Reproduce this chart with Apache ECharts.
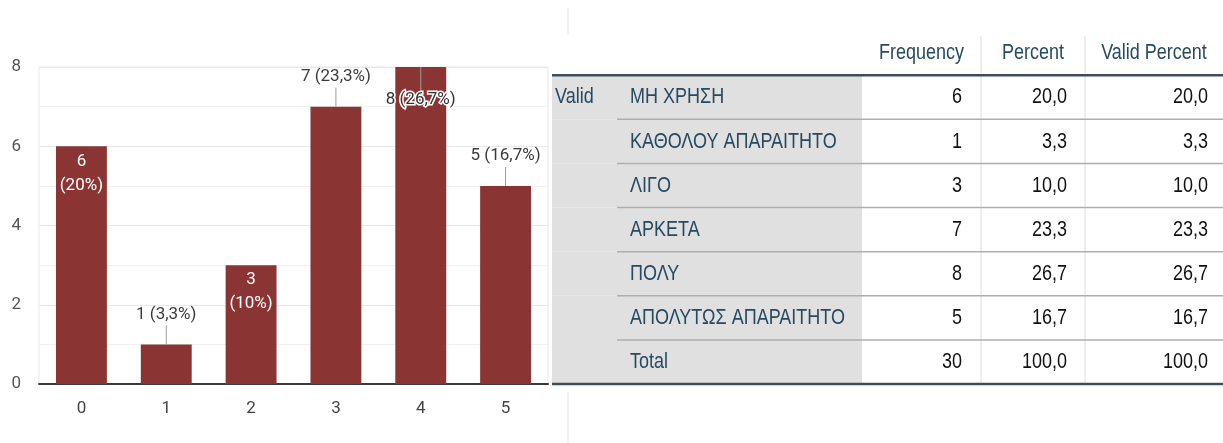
<!DOCTYPE html>
<html>
<head>
<meta charset="utf-8">
<script src="https://cdn.jsdelivr.net/npm/echarts@6/dist/echarts.min.js"></script>
<style>
  html, body { margin: 0; padding: 0; background: #fff; }
  #main { width: 1223px; height: 443px; }
</style>
</head>
<body>
<div id="main"></div>
<script>
// bar chart data
var categories = ['0', '1', '2', '3', '4', '5'];
var counts = [6, 1, 3, 7, 8, 5];
var countPercents = [20.0, 3.3, 10.0, 23.3, 26.7, 16.7];

// table data
var groupLabel = 'Valid';
var tableHeaders = ['Frequency', 'Percent', 'Valid Percent'];
var rowLabels = ['ΜΗ ΧΡΗΣΗ', 'ΚΑΘΟΛΟΥ ΑΠΑΡΑΙΤΗΤΟ', 'ΛΙΓΟ', 'ΑΡΚΕΤΑ', 'ΠΟΛΥ', 'ΑΠΟΛΥΤΩΣ ΑΠΑΡΑΙΤΗΤΟ', 'Total'];
var frequency = [6, 1, 3, 7, 8, 5, 30];
var percent = [20.0, 3.3, 10.0, 23.3, 26.7, 16.7, 100.0];
var validPercent = [20.0, 3.3, 10.0, 23.3, 26.7, 16.7, 100.0];

// where each bar label goes
var labelPlacement = ['inside', 'above', 'inside', 'above', 'below', 'above'];
// column edges of the table, offset from its left side
var colEdges = [0, 65, 310, 429, 533, 674];

var barColor = '#8b3434';
var tableFont = '"Liberation Sans Narrow", "Arial Narrow", "Liberation Sans", Arial, sans-serif';
var labelColor = '#264a60';

function pctText(p) {
  return (Number.isInteger(p) ? String(p) : p.toFixed(1).replace('.', ',')) + '%';
}
function num1(p) {
  return p.toFixed(1).replace('.', ',');
}

function renderBarLabel(params, api) {
  var i = api.value(0);
  var v = api.value(1);
  var pt = api.coord([i, v]);
  var mode = labelPlacement[i];
  var font = '17px Roboto';
  if (mode === 'inside') {
    return {
      type: 'group',
      children: [
        { type: 'text', x: pt[0], y: pt[1] + 15, style: { text: String(v), fill: '#fff', font: font, align: 'center', verticalAlign: 'middle' } },
        { type: 'text', x: pt[0], y: pt[1] + 39, style: { text: '(' + pctText(countPercents[i]) + ')', fill: '#fff', font: font, align: 'center', verticalAlign: 'middle' } }
      ]
    };
  }
  var txt = v + ' (' + pctText(countPercents[i]) + ')';
  if (mode === 'below') {
    return {
      type: 'group',
      children: [
        { type: 'line', shape: { x1: pt[0], y1: pt[1], x2: pt[0], y2: pt[1] + 25 }, style: { stroke: '#9a9a9a', lineWidth: 1 } },
        { type: 'text', x: pt[0], y: pt[1] + 33, style: { text: txt, fill: '#333', font: font, align: 'center', verticalAlign: 'middle', stroke: '#fff', lineWidth: 3 } }
      ]
    };
  }
  return {
    type: 'group',
    children: [
      { type: 'line', shape: { x1: pt[0], y1: pt[1], x2: pt[0], y2: pt[1] - 19 }, style: { stroke: '#9a9a9a', lineWidth: 1 } },
      { type: 'text', x: pt[0], y: pt[1] - 30, style: { text: txt, fill: '#3a3a3a', font: font, align: 'center', verticalAlign: 'middle' } }
    ]
  };
}

function renderRow(params, api) {
  var r = api.value(1);
  var c = api.coord([0, r]);
  var h = api.size([0, 1])[1];
  var left = params.coordSys.x;
  var top = c[1] - h / 2;
  var bot = c[1] + h / 2;
  var cy = c[1];
  var x = function (k) { return left + colEdges[k]; };
  var kids = [];
  var txt = function (s, px, align, fill) {
    kids.push({ type: 'text', x: px, y: cy, scaleY: 1.25, style: { text: s, fill: fill, font: '18px ' + tableFont, align: align, verticalAlign: 'middle' } });
  };
  if (r === 0) {
    kids.push({ type: 'line', shape: { x1: x(3), y1: top + 5, x2: x(3), y2: bot }, style: { stroke: '#dedede', lineWidth: 1 } });
    kids.push({ type: 'line', shape: { x1: x(4), y1: top + 5, x2: x(4), y2: bot }, style: { stroke: '#dedede', lineWidth: 1 } });
    for (var k = 0; k < 3; k++) {
      txt(tableHeaders[k], (x(k + 2) + Math.min(x(k + 3), left + params.coordSys.width)) / 2, 'center', labelColor);
    }
    return { type: 'group', children: kids };
  }
  var d = r - 1;
  kids.push({ type: 'rect', shape: { x: x(0), y: top, width: colEdges[2], height: h }, style: { fill: '#e0e0e0' } });
  kids.push({ type: 'line', shape: { x1: x(3), y1: top, x2: x(3), y2: bot }, style: { stroke: '#dedede', lineWidth: 1 } });
  kids.push({ type: 'line', shape: { x1: x(4), y1: top, x2: x(4), y2: bot }, style: { stroke: '#dedede', lineWidth: 1 } });
  if (d === 0) {
    kids.push({ type: 'line', shape: { x1: x(0), y1: top, x2: x(5), y2: top }, style: { stroke: '#3d4e59', lineWidth: 2.5 } });
    txt(groupLabel, x(0) + 3, 'left', labelColor);
  } else {
    kids.push({ type: 'line', shape: { x1: x(1), y1: top, x2: x(5), y2: top }, style: { stroke: '#aeaeae', lineWidth: 1.5 } });
  }
  if (d === rowLabels.length - 1) {
    kids.push({ type: 'line', shape: { x1: x(0), y1: bot, x2: x(5), y2: bot }, style: { stroke: '#3d4e59', lineWidth: 2.5 } });
  }
  txt(rowLabels[d], x(1) + 13, 'left', labelColor);
  txt(String(frequency[d]), x(3) - 19, 'right', '#111');
  txt(num1(percent[d]), x(4) - 18, 'right', '#111');
  txt(num1(validPercent[d]), x(5) - 18, 'right', '#111');
  return { type: 'group', children: kids };
}

var rowIdx = ['h'].concat(rowLabels);

var chart = echarts.init(document.getElementById('main'));
chart.setOption({
  animation: false,
  backgroundColor: '#fff',
  grid: [
    { left: 39, right: 675, top: 67, bottom: 59, show: true, borderColor: '#e8e8e8', borderWidth: 1 },
    { left: 552, right: 0, top: 31, bottom: 59 }
  ],
  xAxis: [
    {
      type: 'category', gridIndex: 0, data: categories,
      axisLine: { lineStyle: { color: '#3a3a3a', width: 2 } },
      axisTick: { show: false },
      axisLabel: { color: '#444', fontSize: 17, fontFamily: 'Roboto', margin: 16 }
    },
    { type: 'value', gridIndex: 1, min: 0, max: 1, show: false }
  ],
  yAxis: [
    {
      type: 'value', gridIndex: 0, min: 0, max: 8, interval: 2,
      axisLine: { show: false },
      axisTick: { show: false },
      axisLabel: { color: '#555', fontSize: 17, fontFamily: 'Roboto', margin: 18 },
      splitLine: { lineStyle: { color: '#e8e8e8' } },
      minorTick: { show: false, splitNumber: 2 },
      minorSplitLine: { show: true, lineStyle: { color: '#f0f0f0' } }
    },
    { type: 'category', gridIndex: 1, data: rowIdx, inverse: true, show: false }
  ],
  graphic: [
    { type: 'line', shape: { x1: 568, y1: 8, x2: 568, y2: 35 }, style: { stroke: '#e4e4e4', lineWidth: 1 } },
    { type: 'line', shape: { x1: 568, y1: 392, x2: 568, y2: 443 }, style: { stroke: '#e4e4e4', lineWidth: 1 } }
  ],
  series: [
    {
      type: 'bar', xAxisIndex: 0, yAxisIndex: 0, data: counts,
      barWidth: '60%', itemStyle: { color: barColor }, silent: true
    },
    {
      type: 'custom', xAxisIndex: 0, yAxisIndex: 0, silent: true,
      data: counts.map(function (v, i) { return [i, v]; }),
      renderItem: renderBarLabel, z: 5
    },
    {
      type: 'custom', xAxisIndex: 1, yAxisIndex: 1, silent: true,
      data: rowIdx.map(function (r, i) { return [0, i]; }),
      encode: { x: 0, y: 1 },
      renderItem: renderRow
    }
  ]
});
</script>
</body>
</html>
